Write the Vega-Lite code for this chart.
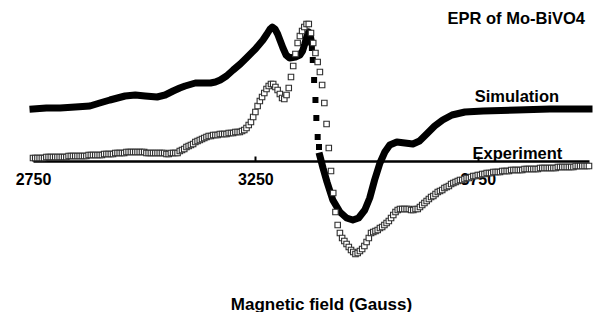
{
  "$schema": "https://vega.github.io/schema/vega-lite/v6.json",
  "autosize": {"type": "none"},
  "padding": {"left": 33, "top": 0, "right": 12, "bottom": 151},
  "width": 556,
  "height": 161,
  "background": "white",
  "config": {
    "view": {"stroke": null},
    "axisX": {
      "grid": false,
      "domainColor": "black", "domainWidth": 2.5,
      "tickColor": "black", "tickWidth": 2, "tickSize": -5,
      "labelFont": "Liberation Sans", "labelFontWeight": "bold", "labelFontSize": 16, "labelColor": "black",
      "labelBaseline": "alphabetic", "labelPadding": 28, "labelFlush": false, "labelOverlap": false,
      "titleFont": "Liberation Sans", "titleFontWeight": "bold", "titleFontSize": 17, "titleColor": "black",
      "titleBaseline": "alphabetic", "titleAlign": "center", "titleX": 288, "titleY": 148
    }
  },
  "datasets": {
    "sim": [
      {"gauss":2750,"signal":52,"part":"a"},{"gauss":2780,"signal":53,"part":"a"},{"gauss":2811,"signal":53,"part":"a"},{"gauss":2845,"signal":54,"part":"a"},{"gauss":2878,"signal":55,"part":"a"},{"gauss":2900,"signal":58,"part":"a"},{"gauss":2923,"signal":61,"part":"a"},{"gauss":2940,"signal":63,"part":"a"},{"gauss":2957,"signal":65,"part":"a"},{"gauss":2980,"signal":66,"part":"a"},{"gauss":3002,"signal":65,"part":"a"},{"gauss":3029,"signal":64,"part":"a"},{"gauss":3047,"signal":66,"part":"a"},{"gauss":3065,"signal":70,"part":"a"},{"gauss":3080,"signal":73,"part":"a"},{"gauss":3092,"signal":75,"part":"a"},{"gauss":3115,"signal":78,"part":"a"},{"gauss":3132,"signal":78,"part":"a"},{"gauss":3149,"signal":78,"part":"a"},{"gauss":3160,"signal":79,"part":"a"},{"gauss":3171,"signal":81,"part":"a"},{"gauss":3185,"signal":85,"part":"a"},{"gauss":3200,"signal":91,"part":"a"},{"gauss":3216,"signal":97,"part":"a"},{"gauss":3232,"signal":104,"part":"a"},{"gauss":3250,"signal":112,"part":"a"},{"gauss":3267,"signal":121,"part":"a"},{"gauss":3276,"signal":127,"part":"a"},{"gauss":3283,"signal":132,"part":"a"},{"gauss":3288,"signal":134,"part":"a"},{"gauss":3294,"signal":132,"part":"a"},{"gauss":3300,"signal":127,"part":"a"},{"gauss":3306,"signal":120,"part":"a"},{"gauss":3312,"signal":113,"part":"a"},{"gauss":3319,"signal":106,"part":"a"},{"gauss":3327,"signal":103,"part":"a"},{"gauss":3340,"signal":104,"part":"a"},{"gauss":3350,"signal":106,"part":"a"},{"gauss":3356,"signal":110,"part":"a"},{"gauss":3361,"signal":117,"part":"a"},{"gauss":3366,"signal":125,"part":"a"},{"gauss":3370,"signal":129,"part":"a"},{"gauss":3373,"signal":126,"part":"a"},{"gauss":3376,"signal":119,"part":"a"},
      {"gauss":3377,"signal":113,"part":"b"},{"gauss":3379,"signal":101,"part":"b"},{"gauss":3382,"signal":81,"part":"b"},{"gauss":3385,"signal":61,"part":"b"},{"gauss":3387,"signal":43,"part":"b"},{"gauss":3390,"signal":24,"part":"b"},{"gauss":3393,"signal":14,"part":"b"},
      {"gauss":3395,"signal":5,"part":"c"},{"gauss":3402,"signal":-7,"part":"c"},{"gauss":3411,"signal":-21,"part":"c"},{"gauss":3424,"signal":-39,"part":"c"},{"gauss":3440,"signal":-51,"part":"c"},{"gauss":3455,"signal":-57,"part":"c"},{"gauss":3469,"signal":-59,"part":"c"},{"gauss":3482,"signal":-57,"part":"c"},{"gauss":3496,"signal":-49,"part":"c"},{"gauss":3507,"signal":-37,"part":"c"},{"gauss":3518,"signal":-19,"part":"c"},{"gauss":3530,"signal":-2,"part":"c"},{"gauss":3541,"signal":9,"part":"c"},{"gauss":3552,"signal":16,"part":"c"},{"gauss":3568,"signal":19,"part":"c"},{"gauss":3586,"signal":18,"part":"c"},{"gauss":3604,"signal":17,"part":"c"},{"gauss":3619,"signal":20,"part":"c"},{"gauss":3635,"signal":27,"part":"c"},{"gauss":3653,"signal":35,"part":"c"},{"gauss":3671,"signal":41,"part":"c"},{"gauss":3692,"signal":46,"part":"c"},{"gauss":3721,"signal":49,"part":"c"},{"gauss":3762,"signal":50,"part":"c"},{"gauss":3838,"signal":51,"part":"c"},{"gauss":3912,"signal":52,"part":"c"},{"gauss":4000,"signal":52,"part":"c"}
    ],
    "exp": [
      {"gauss":2750,"signal":3},{"gauss":2755,"signal":3},{"gauss":2760,"signal":3},{"gauss":2765,"signal":3},{"gauss":2770,"signal":3},{"gauss":2775,"signal":3},{"gauss":2780,"signal":4},{"gauss":2785,"signal":4},{"gauss":2790,"signal":4},{"gauss":2795,"signal":4},{"gauss":2800,"signal":4},{"gauss":2805,"signal":4},{"gauss":2810,"signal":4},
      {"gauss":2815,"signal":4},{"gauss":2820,"signal":4},{"gauss":2825,"signal":4},{"gauss":2830,"signal":5},{"gauss":2835,"signal":5},{"gauss":2840,"signal":5},{"gauss":2845,"signal":5},{"gauss":2850,"signal":5},{"gauss":2855,"signal":5},{"gauss":2860,"signal":5},{"gauss":2865,"signal":5},{"gauss":2870,"signal":5},{"gauss":2875,"signal":6},{"gauss":2880,"signal":6},{"gauss":2885,"signal":6},{"gauss":2890,"signal":6},{"gauss":2895,"signal":6},{"gauss":2900,"signal":6},
      {"gauss":2905,"signal":6},{"gauss":2910,"signal":7},{"gauss":2915,"signal":7},{"gauss":2920,"signal":7},{"gauss":2925,"signal":7},{"gauss":2930,"signal":7},{"gauss":2935,"signal":8},{"gauss":2940,"signal":8},{"gauss":2945,"signal":8},
      {"gauss":2950,"signal":8},{"gauss":2955,"signal":8},{"gauss":2960,"signal":9},{"gauss":2965,"signal":9},{"gauss":2970,"signal":9},{"gauss":2975,"signal":9},{"gauss":2980,"signal":9},{"gauss":2985,"signal":9},{"gauss":2990,"signal":9},
      {"gauss":2995,"signal":9},{"gauss":3000,"signal":9},{"gauss":3005,"signal":8},{"gauss":3010,"signal":8},{"gauss":3015,"signal":8},{"gauss":3020,"signal":8},{"gauss":3025,"signal":8},{"gauss":3030,"signal":8},{"gauss":3035,"signal":8},
      {"gauss":3040,"signal":8},{"gauss":3045,"signal":8},{"gauss":3050,"signal":7},{"gauss":3055,"signal":7},{"gauss":3060,"signal":8},{"gauss":3065,"signal":8},{"gauss":3070,"signal":8},
      {"gauss":3075,"signal":8},{"gauss":3080,"signal":10},{"gauss":3085,"signal":11},{"gauss":3090,"signal":12},{"gauss":3095,"signal":14},
      {"gauss":3100,"signal":15},{"gauss":3105,"signal":16},{"gauss":3110,"signal":17},{"gauss":3115,"signal":19},{"gauss":3120,"signal":20},{"gauss":3125,"signal":21},
      {"gauss":3130,"signal":22},{"gauss":3135,"signal":23},{"gauss":3140,"signal":24},{"gauss":3145,"signal":25},{"gauss":3150,"signal":25},{"gauss":3155,"signal":26},
      {"gauss":3160,"signal":26},{"gauss":3165,"signal":26},{"gauss":3170,"signal":27},{"gauss":3175,"signal":27},{"gauss":3180,"signal":27},{"gauss":3185,"signal":27},{"gauss":3190,"signal":28},{"gauss":3195,"signal":28},{"gauss":3200,"signal":28},
      {"gauss":3205,"signal":29},{"gauss":3210,"signal":29},{"gauss":3215,"signal":29},{"gauss":3220,"signal":30},
      {"gauss":3225,"signal":31},{"gauss":3230,"signal":33},{"gauss":3235,"signal":36},
      {"gauss":3240,"signal":39},{"gauss":3245,"signal":44},{"gauss":3250,"signal":49},
      {"gauss":3255,"signal":55},{"gauss":3260,"signal":60},
      {"gauss":3265,"signal":64},{"gauss":3270,"signal":68},{"gauss":3275,"signal":72},
      {"gauss":3280,"signal":75},{"gauss":3285,"signal":77},
      {"gauss":3290,"signal":77},{"gauss":3295,"signal":74},{"gauss":3300,"signal":71},
      {"gauss":3305,"signal":67},{"gauss":3310,"signal":63},
      {"gauss":3315,"signal":62},{"gauss":3320,"signal":66},
      {"gauss":3325,"signal":73},{"gauss":3330,"signal":84},
      {"gauss":3335,"signal":95},{"gauss":3340,"signal":107},{"gauss":3345,"signal":118},
      {"gauss":3350,"signal":125},{"gauss":3355,"signal":130},
      {"gauss":3360,"signal":134},{"gauss":3365,"signal":137},{"gauss":3370,"signal":137},
      {"gauss":3375,"signal":128},{"gauss":3380,"signal":118},{"gauss":3385,"signal":108},{"gauss":3390,"signal":99},{"gauss":3395,"signal":89},{"gauss":3400,"signal":76},{"gauss":3405,"signal":58},{"gauss":3410,"signal":37},{"gauss":3415,"signal":13},{"gauss":3420,"signal":-10},{"gauss":3425,"signal":-32},{"gauss":3430,"signal":-51},{"gauss":3435,"signal":-64},{"gauss":3440,"signal":-72},{"gauss":3445,"signal":-77},
      {"gauss":3450,"signal":-80},{"gauss":3455,"signal":-83},{"gauss":3460,"signal":-86},
      {"gauss":3465,"signal":-89},{"gauss":3470,"signal":-91},{"gauss":3475,"signal":-93},
      {"gauss":3480,"signal":-92},{"gauss":3485,"signal":-90},{"gauss":3490,"signal":-88},
      {"gauss":3495,"signal":-85},{"gauss":3500,"signal":-81},{"gauss":3505,"signal":-77},
      {"gauss":3510,"signal":-72},{"gauss":3515,"signal":-71},{"gauss":3520,"signal":-70},{"gauss":3525,"signal":-69},{"gauss":3530,"signal":-67},
      {"gauss":3535,"signal":-66},{"gauss":3540,"signal":-64},{"gauss":3545,"signal":-62},{"gauss":3550,"signal":-60},
      {"gauss":3555,"signal":-57},{"gauss":3560,"signal":-54},{"gauss":3565,"signal":-51},
      {"gauss":3570,"signal":-49},{"gauss":3575,"signal":-48},{"gauss":3580,"signal":-48},{"gauss":3585,"signal":-48},{"gauss":3590,"signal":-48},
      {"gauss":3595,"signal":-48},{"gauss":3600,"signal":-49},{"gauss":3605,"signal":-49},{"gauss":3610,"signal":-48},{"gauss":3615,"signal":-48},
      {"gauss":3620,"signal":-46},{"gauss":3625,"signal":-44},{"gauss":3630,"signal":-42},{"gauss":3635,"signal":-40},
      {"gauss":3640,"signal":-38},{"gauss":3645,"signal":-36},{"gauss":3650,"signal":-35},{"gauss":3655,"signal":-33},{"gauss":3660,"signal":-31},{"gauss":3665,"signal":-30},
      {"gauss":3670,"signal":-29},{"gauss":3675,"signal":-27},{"gauss":3680,"signal":-26},{"gauss":3685,"signal":-25},{"gauss":3690,"signal":-23},{"gauss":3695,"signal":-22},
      {"gauss":3700,"signal":-21},{"gauss":3705,"signal":-20},{"gauss":3710,"signal":-19},{"gauss":3715,"signal":-19},{"gauss":3720,"signal":-18},{"gauss":3725,"signal":-17},
      {"gauss":3730,"signal":-17},{"gauss":3735,"signal":-16},{"gauss":3740,"signal":-15},{"gauss":3745,"signal":-15},{"gauss":3750,"signal":-14},{"gauss":3755,"signal":-14},{"gauss":3760,"signal":-13},{"gauss":3765,"signal":-13},{"gauss":3770,"signal":-12},
      {"gauss":3775,"signal":-12},{"gauss":3780,"signal":-12},{"gauss":3785,"signal":-11},{"gauss":3790,"signal":-11},{"gauss":3795,"signal":-11},{"gauss":3800,"signal":-11},{"gauss":3805,"signal":-10},{"gauss":3810,"signal":-10},{"gauss":3815,"signal":-10},{"gauss":3820,"signal":-10},{"gauss":3825,"signal":-9},{"gauss":3830,"signal":-9},{"gauss":3835,"signal":-9},{"gauss":3840,"signal":-9},
      {"gauss":3845,"signal":-9},{"gauss":3850,"signal":-9},{"gauss":3855,"signal":-8},{"gauss":3860,"signal":-8},{"gauss":3865,"signal":-8},{"gauss":3870,"signal":-8},{"gauss":3875,"signal":-8},{"gauss":3880,"signal":-8},{"gauss":3885,"signal":-8},{"gauss":3890,"signal":-7},{"gauss":3895,"signal":-7},{"gauss":3900,"signal":-7},{"gauss":3905,"signal":-7},{"gauss":3910,"signal":-7},
      {"gauss":3915,"signal":-7},{"gauss":3920,"signal":-7},{"gauss":3925,"signal":-7},{"gauss":3930,"signal":-6},{"gauss":3935,"signal":-6},{"gauss":3940,"signal":-6},{"gauss":3945,"signal":-6},{"gauss":3950,"signal":-6},{"gauss":3955,"signal":-6},{"gauss":3960,"signal":-6},{"gauss":3965,"signal":-6},{"gauss":3970,"signal":-5},{"gauss":3975,"signal":-5},{"gauss":3980,"signal":-5},{"gauss":3985,"signal":-5},{"gauss":3990,"signal":-5},{"gauss":3995,"signal":-5},{"gauss":4000,"signal":-5}
    ],
    "notes": [{"k": 1}]
  },
  "layer": [
    {
      "data": {"name": "sim"},
      "transform": [{"filter": "datum.part != 'b'"}],
      "mark": {"type": "line", "color": "black", "strokeWidth": 7, "strokeJoin": "round", "strokeCap": "square"},
      "encoding": {
        "x": {"field": "gauss", "type": "quantitative", "scale": {"domain": [2750, 4000], "nice": false, "zero": false}, "axis": {"values": [2750, 3250, 3750], "format": "d", "title": "Magnetic field (Gauss)"}},
        "y": {"field": "signal", "type": "quantitative", "scale": {"domain": [0, 161], "nice": false, "zero": false}, "axis": null},
        "detail": {"field": "part", "type": "nominal"}
      }
    },
    {
      "data": {"name": "sim"},
      "transform": [{"filter": "datum.part == 'b'"}],
      "mark": {"type": "point", "shape": "square", "size": 36, "filled": true, "color": "black", "opacity": 1},
      "encoding": {
        "x": {"field": "gauss", "type": "quantitative", "axis": {"values": [2750, 3250, 3750], "format": "d", "title": "Magnetic field (Gauss)"}},
        "y": {"field": "signal", "type": "quantitative", "axis": null}
      }
    },
    {
      "data": {"name": "exp"},
      "mark": {"type": "point", "shape": "square", "size": 30, "filled": true, "fill": "white", "stroke": "#2e2e2e", "strokeWidth": 1.1, "opacity": 1},
      "encoding": {
        "x": {"field": "gauss", "type": "quantitative", "axis": {"values": [2750, 3250, 3750], "format": "d", "title": "Magnetic field (Gauss)"}},
        "y": {"field": "signal", "type": "quantitative", "axis": null}
      }
    },
    {
      "data": {"name": "notes"},
      "mark": {"type": "text", "font": "Liberation Sans", "fontWeight": "bold", "fontSize": 16.5, "fill": "black", "align": "center", "baseline": "alphabetic"},
      "encoding": {"x": {"datum": 3838, "type": "quantitative"}, "y": {"datum": 59, "type": "quantitative"}, "text": {"value": "Simulation"}}
    },
    {
      "data": {"name": "notes"},
      "mark": {"type": "text", "font": "Liberation Sans", "fontWeight": "bold", "fontSize": 16.5, "fill": "black", "align": "center", "baseline": "alphabetic"},
      "encoding": {"x": {"datum": 3839, "type": "quantitative"}, "y": {"datum": 2, "type": "quantitative"}, "text": {"value": "Experiment"}}
    },
    {
      "data": {"name": "notes"},
      "mark": {"type": "text", "font": "Liberation Sans", "fontWeight": "bold", "fontSize": 16.5, "fill": "black", "align": "right", "baseline": "alphabetic"},
      "encoding": {"x": {"datum": 3991, "type": "quantitative"}, "y": {"datum": 137, "type": "quantitative"}, "text": {"value": "EPR of Mo-BiVO4"}}
    }
  ]
}
